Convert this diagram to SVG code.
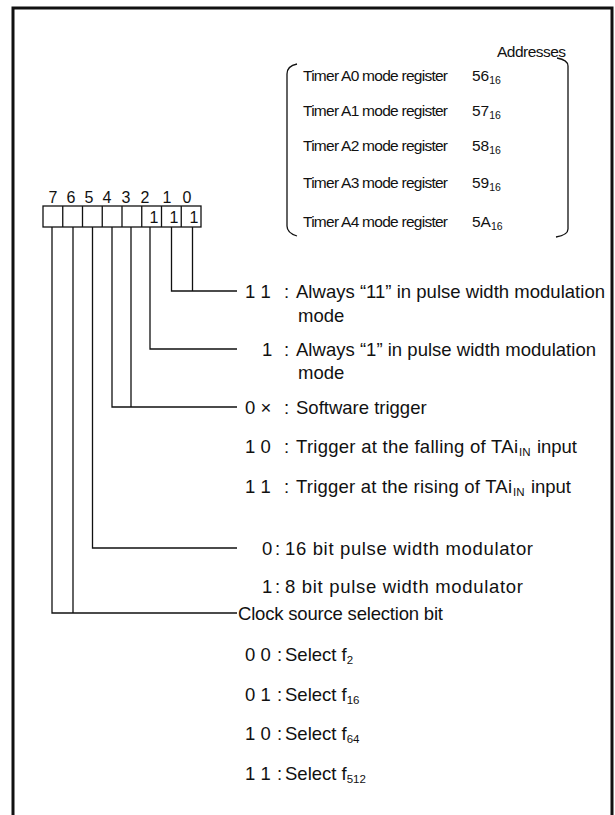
<svg xmlns="http://www.w3.org/2000/svg" width="615" height="815" viewBox="0 0 615 815">
<style>
text{font-family:"Liberation Sans",Arial,sans-serif;font-size:18.5px;fill:#111}
.sm{font-size:15.5px}
.sub{font-size:11.5px}
.ssub{font-size:10.5px}
.ln{fill:none;stroke:#111;stroke-width:1.3}
.frame{fill:none;stroke:#111;stroke-width:3}
.bit{font-size:16px}
</style>
<rect x="0" y="0" width="615" height="815" fill="#fff"/>
<path class="frame" d="M13,815 L13,8 L612,8 L612,815"/>
<g id="addresses">
<text class="sm" x="497" y="57" textLength="69">Addresses</text>
<path class="ln" d="M297,64 Q287,66 287,74 L287,226 Q287,233 297,236"/>
<path class="ln" d="M557,58 Q568,60 568,66 L568,229 Q568,235 556,237"/>
<text class="sm" x="303" y="81" textLength="145">Timer A0 mode register</text><text class="sm" x="472" y="81">56<tspan class="ssub" dy="3">16</tspan></text>
<text class="sm" x="303" y="116" textLength="145">Timer A1 mode register</text><text class="sm" x="472" y="116">57<tspan class="ssub" dy="3">16</tspan></text>
<text class="sm" x="303" y="151" textLength="145">Timer A2 mode register</text><text class="sm" x="472" y="151">58<tspan class="ssub" dy="3">16</tspan></text>
<text class="sm" x="303" y="188" textLength="145">Timer A3 mode register</text><text class="sm" x="472" y="188">59<tspan class="ssub" dy="3">16</tspan></text>
<text class="sm" x="303" y="227" textLength="145">Timer A4 mode register</text><text class="sm" x="472" y="227">5A<tspan class="ssub" dy="3">16</tspan></text>
</g>
<g id="register">
<g text-anchor="middle">
<text class="bit" x="53" y="203">7</text><text class="bit" x="71" y="203">6</text><text class="bit" x="89" y="203">5</text><text class="bit" x="107" y="203">4</text><text class="bit" x="126" y="203">3</text><text class="bit" x="145" y="203">2</text><text class="bit" x="167" y="203">1</text><text class="bit" x="187" y="203">0</text>
<text class="bit" x="154" y="223">1</text><text class="bit" x="174" y="223">1</text><text class="bit" x="194" y="223">1</text>
</g>
<rect class="ln" x="43" y="206" width="158" height="21"/>
<path class="ln" d="M62.75,206 V227 M82.5,206 V227 M102.25,206 V227 M122,206 V227 M141.75,206 V227 M161.5,206 V227 M181.25,206 V227"/>
</g>
<g id="connectors">
<path class="ln" d="M171.5,227 V291 H237 M192.5,227 V291"/>
<path class="ln" d="M150,227 V349 H237"/>
<path class="ln" d="M112,227 V407 H237 M131,227 V407"/>
<path class="ln" d="M92.5,227 V548 H237"/>
<path class="ln" d="M52,227 V613 H237 M73,227 V613"/>
</g>
<g id="bits01">
<text x="245" y="297.5">1 1</text><text x="284" y="297.5">:</text><text x="296" y="297.5" textLength="309">Always “11” in pulse width modulation</text>
<text x="298" y="321.5">mode</text>
</g>
<g id="bit2">
<text x="262" y="355.5">1</text><text x="284" y="355.5">:</text><text x="296" y="355.5" textLength="300">Always “1” in pulse width modulation</text>
<text x="298" y="378.5">mode</text>
</g>
<g id="bits43">
<text x="245" y="413.5">0 ×</text><text x="284" y="413.5">:</text><text x="296" y="413.5">Software trigger</text>
<text x="245" y="452.5">1 0</text><text x="284" y="452.5">:</text><text x="296" y="452.5" textLength="222">Trigger at the falling of TAi</text><text class="sub" x="519" y="455.5">IN</text><text x="537" y="452.5" textLength="40">input</text>
<text x="245" y="492.5">1 1</text><text x="284" y="492.5">:</text><text x="296" y="492.5" textLength="216">Trigger at the rising of TAi</text><text class="sub" x="513" y="495.5">IN</text><text x="531" y="492.5" textLength="40">input</text>
</g>
<g id="bit5">
<text x="262" y="554.5">0</text><text x="275" y="554.5">:</text><text x="285" y="554.5" textLength="248">16 bit pulse width modulator</text>
<text x="262" y="592.5">1</text><text x="275" y="592.5">:</text><text x="285" y="592.5" textLength="238">8 bit pulse width modulator</text>
</g>
<g id="bits76">
<text x="238" y="619.5" textLength="205">Clock source selection bit</text>
<text x="245" y="660.5">0 0</text><text x="277" y="660.5">:</text><text x="285" y="660.5">Select f<tspan class="sub" dy="3">2</tspan></text>
<text x="245" y="700.5">0 1</text><text x="277" y="700.5">:</text><text x="285" y="700.5">Select f<tspan class="sub" dy="3">16</tspan></text>
<text x="245" y="739.5">1 0</text><text x="277" y="739.5">:</text><text x="285" y="739.5">Select f<tspan class="sub" dy="3">64</tspan></text>
<text x="245" y="779.5">1 1</text><text x="277" y="779.5">:</text><text x="285" y="779.5">Select f<tspan class="sub" dy="3">512</tspan></text>
</g>
</svg>
